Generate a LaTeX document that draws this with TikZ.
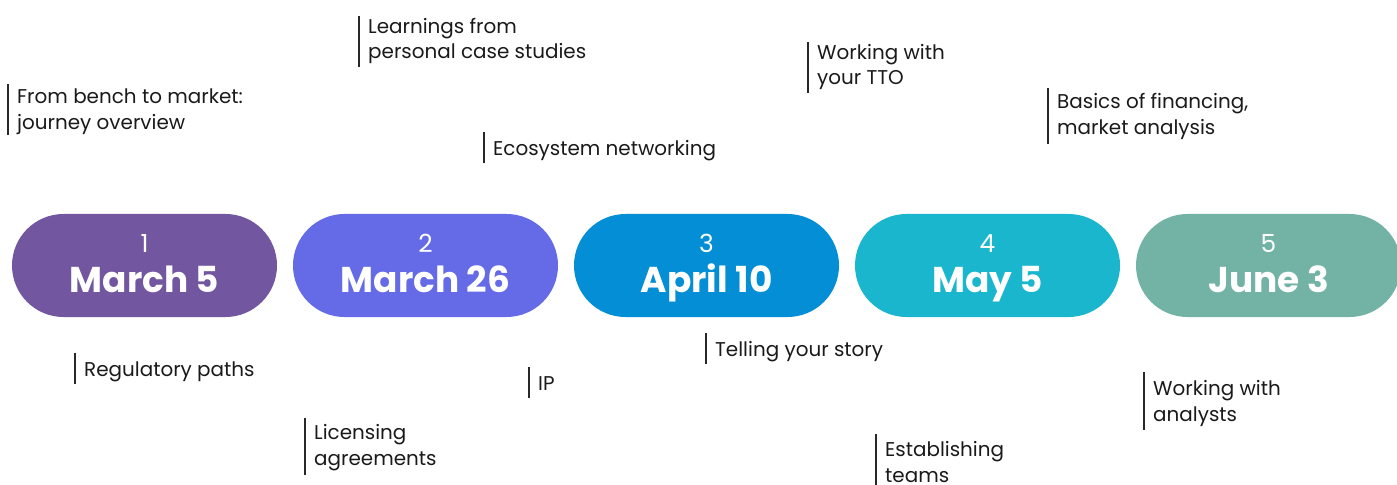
\documentclass[tikz,border=0pt]{standalone}
\usepackage{fontspec}
\setmainfont{Poppins}
\usetikzlibrary{shapes.misc}
\definecolor{pone}{RGB}{114,87,160}
\definecolor{ptwo}{RGB}{101,107,230}
\definecolor{pthree}{RGB}{4,142,213}
\definecolor{pfour}{RGB}{26,182,205}
\definecolor{pfive}{RGB}{115,179,166}
\definecolor{ink}{RGB}{26,26,26}
\definecolor{barc}{RGB}{40,40,40}
\tikzset{
  pill/.style={rounded rectangle, fill=#1, draw=none, minimum width=265bp, minimum height=103bp, inner sep=0pt},
  numtxt/.style={anchor=base, text=white, font=\fontsize{25}{25}\selectfont, inner sep=0pt},
  datetxt/.style={anchor=base, text=white, font=\fontsize{36}{36}\selectfont\bfseries, inner sep=0pt},
  lbl/.style={anchor=west, text=ink, align=left, inner xsep=9bp, inner ysep=0pt,
    font=\fontsize{20}{26}\selectfont},
  onel/.style={lbl, text height=18bp, text depth=2bp},
  barline/.style={draw=barc, line width=1.2bp},
}
\begin{document}
\begin{tikzpicture}[x=1bp,y=-1bp]
\clip (0,0) rectangle (1397,485);
\fill[white] (0,0) rectangle (1397,485);
% pills
\node[pill=pone]   (p1) at (144.5,265.5) {};
\node[pill=ptwo]   (p2) at (425.5,265.5) {};
\node[pill=pthree] (p3) at (706.5,265.5) {};
\node[pill=pfour]  (p4) at (987.5,265.5) {};
\node[pill=pfive]  (p5) at (1268.5,265.5) {};
\foreach \i/\d in {1/March 5,2/March 26,3/April 10,4/May 5,5/June 3}{
  \node[numtxt]  (n\i) at ([yshift=12.5bp]p\i.center) {\i};
  \node[datetxt] (d\i) at ([yshift=-26.5bp]p\i.center) {\d};
}
% top labels
\node[lbl] (la) at (8,111.5) {From bench to market:\\journey overview};
\node[lbl] (lb) at (359,41) {Learnings from\\personal case studies};
\node[onel] (lc) at (484,147.5) {Ecosystem networking};
\node[lbl] (ld) at (808,67) {Working with\\your TTO};
\node[lbl] (le) at (1048,116.5) {Basics of financing,\\market analysis};
% bottom labels
\node[onel] (lf) at (75,368) {Regulatory paths};
\node[lbl] (lg) at (305,448) {Licensing\\agreements};
\node[onel] (li) at (706,348.5) {Telling your story};
\node[onel] (lh) at (529,382.5) {IP};
\node[lbl] (lj) at (876,462) {Establishing\\teams};
\node[lbl] (lk) at (1144,403.5) {Working with\\analysts};
% bars (top offset / bottom offset from the label's west anchor)
\foreach \n/\t/\b in {la/27.5/23.5,lb/25/26,ld/25/26,le/28.5/27.5,lg/30/27,lj/28/28,lk/31.5/26.5}{
  \draw[barline] ([yshift=\t bp]\n.west) -- ([yshift=-\b bp]\n.west);
}
\foreach \n in {lc,lf,lh,li}{
  \draw[barline] ([yshift=15.5bp]\n.west) -- ([yshift=-15.5bp]\n.west);
}
\end{tikzpicture}
\end{document}
